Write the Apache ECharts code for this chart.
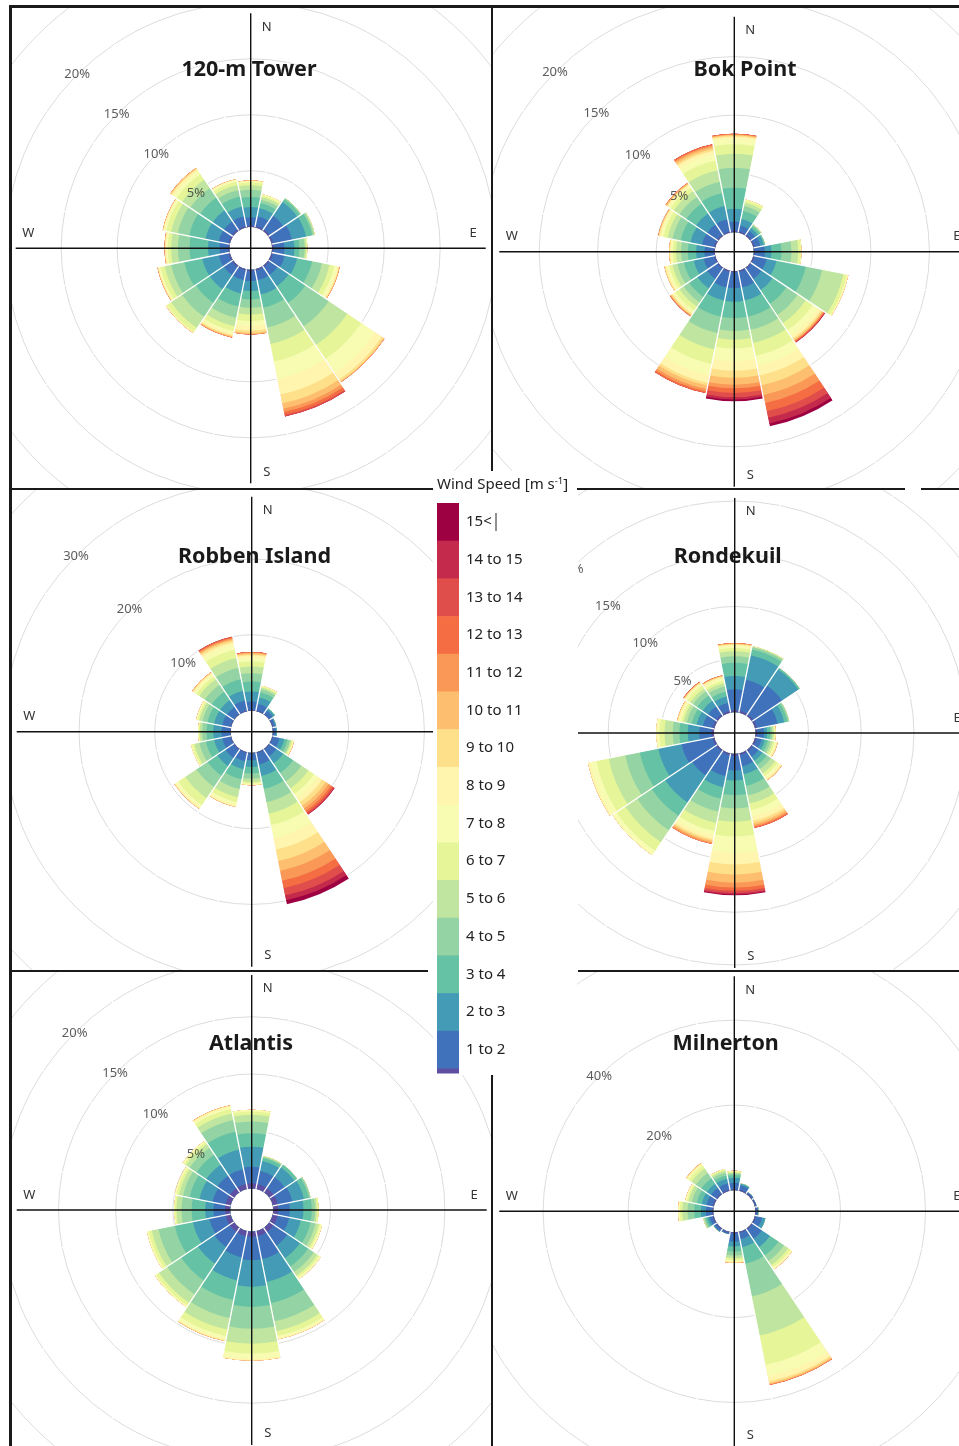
<!DOCTYPE html>
<html><head><meta charset="utf-8">
<script src="https://cdn.jsdelivr.net/npm/echarts@6/dist/echarts.min.js"></script>
<style>
html,body{margin:0;padding:0;background:#fff}
body{width:959px;height:1446px;position:relative;overflow:hidden}
.p{position:absolute;overflow:hidden;background:transparent}
.ln{position:absolute;background:#1a1a1a;z-index:5}
#legend{position:absolute;left:433px;top:471px;width:144px;height:604px;background:#fff;z-index:10}
</style></head><body>
<script>
// ---------- data ----------
const directions = ['N','NNE','NE','ENE','E','ESE','SE','SSE','S','SSW','SW','WSW','W','WNW','NW','NNW'];
const binLabels = ['0 to 1','1 to 2','2 to 3','3 to 4','4 to 5','5 to 6','6 to 7','7 to 8','8 to 9','9 to 10','10 to 11','11 to 12','12 to 13','13 to 14','14 to 15','15<'];
const binColors = ['#5E4FA2','#3F72BA','#439BB5','#66C2A5','#94D4A4','#BFE5A0','#E6F598','#F7FCB2','#FFF5AE','#FEE08B','#FDBF6F','#FA9857','#F46D43','#DF4E4B','#C32A4B','#9E0142'];
const legendTitle = 'Wind Speed [m s';
const legendTitleSup = '-1';

// cumulative frequency (%) at the upper end of each speed bin, one row per direction (N, NNE, ... NNW)
const tower120m = [
  [0.12,0.86,1.76,2.65,3.3,3.7,3.95,4.05,4.1,4.14],
  [0.12,1.0,1.76,2.2,2.5,2.75,2.9,3.0],
  [0.12,1.6,3.1,3.4,3.5],
  [0.12,1.85,3.13,3.69,3.84,3.93],
  [0.12,1.1,2.0,2.44,2.89,3.03,3.13],
  [0.12,1.19,2.32,3.69,4.58,5.27,5.71,6.0,6.1,6.15,6.2],
  [0.12,1.0,2.2,4.0,6.5,8.5,10.0,11.5,12.2,12.4,12.48,12.5],
  [0.12,1.0,2.3,3.5,5.3,6.8,8.4,10.0,11.4,12.2,12.7,13.0,13.25,13.4],
  [0.12,1.0,1.9,2.65,3.39,3.99,4.58,5.03,5.42,5.63,5.75,5.77],
  [0.12,1.0,2.2,3.39,4.43,5.18,5.63,5.85,6.0,6.1,6.18,6.22],
  [0.12,1.0,2.5,3.99,5.48,6.67,7.11,7.18,7.2,7.22,7.23],
  [0.12,1.0,2.5,4.14,5.33,5.92,6.31,6.45,6.52,6.55,6.58],
  [0.12,0.86,1.9,3.54,4.58,5.18,5.48,5.6,5.7,5.75,5.77],
  [0.12,1.0,2.2,3.69,4.73,5.33,5.77,5.98,6.05,6.08,6.1],
  [0.12,1.0,2.2,3.54,4.58,5.48,6.07,6.43,6.6,6.7,6.76],
  [0.12,1.0,1.9,2.8,3.39,3.84,4.14,4.3,4.37,4.4]
];
const bokPoint = [
  [0.1,0.9,2.0,3.8,5.5,6.7,7.5,8.0,8.15,8.25,8.32,8.37,8.41],
  [0.1,0.6,1.2,1.9,2.3,2.6,2.8,2.87],
  [0.1,0.5,0.8,1.0,1.1,1.16],
  [0.1,0.6,0.9,1.02],
  [0.1,0.94,1.5,2.36,3.21,3.78,4.02,4.06],
  [0.1,1.16,2.02,4.57,5.99,7.84,8.13,8.2,8.27],
  [0.1,1.16,2.3,3.72,4.86,5.71,6.42,6.99,7.27,7.41,7.5,7.56,7.62,7.67,7.7],
  [0.1,1.45,2.59,4.0,5.14,6.28,7.41,8.27,9.12,9.97,10.82,11.53,12.24,12.81,13.3,13.55],
  [0.1,1.45,2.6,4.0,5.1,5.85,6.6,7.7,8.5,9.1,9.7,10.0,10.4,10.75,10.95,11.1],
  [0.1,1.45,2.59,4.0,5.43,6.85,8.13,9.12,9.75,10.0,10.3,10.5,10.65],
  [0.1,1.16,2.16,3.01,3.58,4.0,4.43,4.63,4.74,4.86,4.92,4.97,5.0],
  [0.1,1.02,1.88,2.73,3.3,3.72,4.0,4.2,4.35,4.43],
  [0.1,0.88,1.59,2.3,2.87,3.3,3.58,3.72,3.82,3.89],
  [0.1,1.16,2.16,3.01,3.72,4.15,4.52,4.72,4.85,4.92,4.97],
  [0.1,1.16,2.3,3.3,4.0,4.57,4.91,5.14,5.25,5.31,5.38,5.43],
  [0.1,1.16,2.3,3.44,4.43,5.43,6.28,6.85,7.13,7.3,7.47,7.61,7.7]
];
const robbenIsland = [
  [0.1,1.19,2.51,3.83,4.93,5.81,6.48,7.0,7.27,7.44,7.58,7.65,7.71],
  [0.1,0.97,1.85,2.51,2.95,3.17,3.3,3.39],
  [0.1,0.6,0.9,0.97],
  [0.1,0.4,0.53],
  [0.1,0.4,0.53],
  [0.1,0.97,1.63,2.07,2.42,2.6,2.78,2.86,2.9,2.95],
  [0.1,1.19,2.29,3.83,5.15,6.26,7.14,7.8,8.46,9.03,9.47,9.87,10.13,10.35,10.44],
  [0.1,1.63,3.17,4.93,6.7,8.24,9.78,11.54,13.08,14.63,15.95,17.27,18.28,19.25,19.91,20.44],
  [0.1,0.97,1.85,2.73,3.39,3.83,4.05,4.19,4.25,4.27],
  [0.1,1.19,2.29,3.61,4.93,6.04,6.7,7.14,7.3,7.36],
  [0.1,1.41,2.73,4.27,6.04,7.8,8.9,9.34,9.45,9.52],
  [0.1,1.19,2.29,3.39,4.27,4.93,5.24,5.37],
  [0.1,1.19,2.29,3.17,3.74,4.05,4.2,4.27],
  [0.1,1.19,2.29,3.17,3.83,4.27,4.49,4.65,4.71],
  [0.1,1.19,2.29,3.61,4.71,5.59,6.04,6.39,6.55,6.65,6.7],
  [0.1,1.41,2.73,4.27,5.81,7.14,8.24,8.9,9.21,9.47,9.65,9.82,9.95,10.0]
];
const rondekuil = [
  [0.15,2.16,3.41,4.66,5.28,5.75,6.06,6.3,6.38,6.45,6.5,6.53],
  [0.15,3.16,5.53,6.09,6.31,6.38,6.41],
  [0.15,3.44,5.31,5.47],
  [0.15,2.19,2.81,3.13,3.28],
  [0.15,0.78,1.09,1.41,1.56,1.72,1.81,1.88,1.91],
  [0.15,0.63,0.94,1.25,1.5,1.72,1.88,2.03,2.12,2.19],
  [0.15,0.78,1.25,1.72,2.19,2.66,2.97,3.19,3.35,3.44],
  [0.15,1.25,2.03,3.13,4.06,4.84,5.47,6.09,6.5,6.75,6.94,7.09,7.19],
  [0.15,1.56,2.5,3.91,5.16,6.41,7.81,9.38,10.47,11.41,12.19,12.66,12.97,13.19,13.31,13.38],
  [0.15,2.19,3.28,4.38,5.63,6.72,7.5,7.97,8.28,8.44,8.59,8.75],
  [0.15,2.88,5.97,7.5,9.16,10.5,11.5,11.97],
  [0.15,3.16,5.4,7.2,8.6,10.2,11.4,12.0,12.2],
  [0.2,1.38,2.47,3.25,3.88,4.66,5.13,5.44],
  [0.15,1.09,1.72,2.19,2.66,2.97,3.19,3.38,3.5,3.59],
  [0.15,1.09,1.72,2.34,2.81,3.13,3.44,3.66,3.75,3.8,3.84,3.88,3.91],
  [0.15,0.94,1.56,2.03,2.5,2.81,3.06,3.28,3.45,3.5,3.55,3.59]
];
const atlantis = [
  [0.44,1.9,3.65,4.82,5.85,6.43,6.73,6.87],
  [0.44,1.61,2.49,2.78,2.87,2.92],
  [0.44,1.61,2.63,2.92],
  [0.44,1.75,2.78,3.22,3.36],
  [0.44,1.46,2.63,3.36,3.65,3.8,3.95],
  [0.44,1.46,2.49,3.36,3.8,4.09,4.24,4.39],
  [0.44,1.9,3.22,4.09,4.68,5.06,5.26,5.41],
  [0.44,2.49,4.53,6.43,8.04,8.92,9.36,9.56,9.65],
  [0.44,2.49,4.82,6.58,8.48,9.8,10.67,11.11,11.26],
  [0.44,2.34,4.39,6.14,7.75,8.77,9.36,9.65,9.75,9.8],
  [0.44,2.05,3.8,5.56,7.02,7.89,8.19,8.33],
  [0.44,1.9,3.36,4.97,6.43,7.02,7.31,7.46],
  [0.44,1.46,2.19,3.36,4.24,4.68,4.82,4.88],
  [0.44,1.61,2.78,3.65,4.24,4.59,4.82,4.97],
  [0.44,1.75,2.92,3.95,4.68,5.06,5.26,5.41],
  [0.44,1.75,3.51,5.12,6.14,6.73,7.11,7.31,7.4,7.46]
];
const milnerton = [
  [0.24,1.73,2.9,3.53,3.92,4.16,4.31,4.39,4.47,4.55],
  [0.24,1.3,1.6,1.73],
  [0.24,0.5,0.55],
  [0.24,0.39],
  [0.24,0.6,0.71],
  [0.24,1.73,2.51],
  [0.24,2.9,5.25,7.61,9.18,10.35,10.98,11.29,11.53],
  [0.24,1.73,3.69,7.61,15.45,24.86,31.92,34.67,35.84,36.31,36.55,36.71],
  [0.24,2.12,3.29,4.47,5.41,6.04,6.51,6.82,7.0,7.14],
  [0.24,0.55],
  [0.24,0.8,0.94],
  [0.24,1.0,1.5,2.0,2.3,2.51],
  [0.24,1.73,2.9,4.47,6.04,7.22,7.84,8.08,8.24],
  [0.24,1.73,2.9,4.08,5.25,6.04,6.43,6.67,6.82],
  [0.24,1.73,2.9,4.47,6.04,7.22,8.0,8.39,8.6,8.78],
  [0.24,1.73,2.9,3.69,4.31,4.78,5.1,5.25]
];
const towerTicks = [5,10,15,20];
const bokTicks = [5,10,15,20];
const robbenTicks = [10,20,30];
const rondekuilTicks = [5,10,15,20];
const atlantisTicks = [5,10,15,20];
const milnertonTicks = [20,40];
const compass = ['N','E','S','W'];

// ---------- layout ----------
const FONT = '"Noto Sans", "DejaVu Sans", sans-serif';
const panels = [
  {title:'120-m Tower', data:tower120m, ticks:towerTicks, box:[12,8,479,480], center:[250.7,248.3], r0:21.5, k:11.2, step:5, max:30, titleAt:[249,69.5]},
  {title:'Bok Point', data:bokPoint, ticks:bokTicks, box:[493,8,466,480], center:[734.3,251.7], r0:19.6, k:11.7, step:5, max:30, titleAt:[745,69.5]},
  {title:'Robben Island', data:robbenIsland, ticks:robbenTicks, box:[12,490,421,480], center:[251.7,731.7], r0:21.2, k:7.575, step:10, max:40, titleAt:[254.5,557]},
  {title:'Rondekuil', data:rondekuil, ticks:rondekuilTicks, box:[578,490,381,480], center:[734.7,733], r0:21, k:10.55, step:5, max:30, titleAt:[727.7,557]},
  {title:'Atlantis', data:atlantis, ticks:atlantisTicks, box:[12,972,480,474], center:[251.7,1210], r0:21.6, k:11.44, step:5, max:30, titleAt:[251,1043.5]},
  {title:'Milnerton', data:milnerton, ticks:milnertonTicks, box:[493,972,466,474], center:[734.3,1211.3], r0:21.2, k:4.25, step:20, max:60, titleAt:[725.7,1044]}
];

panels.forEach(p => {
  const div = document.createElement('div');
  div.className = 'p';
  div.style.left = p.box[0] + 'px';
  div.style.top = p.box[1] + 'px';
  div.style.width = p.box[2] + 'px';
  div.style.height = p.box[3] + 'px';
  document.body.appendChild(div);
  const chart = echarts.init(div, null, {renderer:'canvas', width:p.box[2], height:p.box[3]});
  const cx = p.center[0] - p.box[0], cy = p.center[1] - p.box[1];

  const series = [];
  for (let b = binLabels.length - 1; b >= 0; b--) {
    series.push({
      type:'bar', coordinateSystem:'polar', name:binLabels[b],
      data:p.data.map(row => row[Math.min(b, row.length - 1)]),
      barGap:'-100%', barCategoryGap:'2%',
      itemStyle:{color:binColors[b]}, silent:true
    });
  }
  series.push({
    type:'scatter', coordinateSystem:'polar', symbolSize:1,
    itemStyle:{color:'rgba(0,0,0,0)'}, silent:true, z:6,
    data:p.ticks.map(t => [t, 'NW']),
    label:{show:true, position:'inside', formatter:q => q.value[0] + '%', color:'#333', fontSize:13, fontFamily:FONT}
  });

  const L = 235;
  const txt = (s, x, y) => ({type:'text', x:x, y:y, z:100,
    style:{text:s, font:'13px ' + FONT, fill:'#333', align:'center', verticalAlign:'middle', textAlign:'center', textVerticalAlign:'middle'}});
  const graphic = [
    {type:'line', z:100, shape:{x1:cx, y1:cy - L, x2:cx, y2:cy + L}, style:{stroke:'#111', lineWidth:1.4}},
    {type:'line', z:100, shape:{x1:cx - L, y1:cy, x2:cx + L, y2:cy}, style:{stroke:'#111', lineWidth:1.4}},
    txt(compass[0], cx + 16, cy - 221.5),
    txt(compass[1], cx + 222.5, cy - 15),
    txt(compass[2], cx + 16, cy + 223.5),
    txt(compass[3], cx - 222.5, cy - 15),
    {type:'text', z:50, x:p.titleAt[0] - p.box[0], y:p.titleAt[1] - p.box[1],
      style:{text:p.title, font:'bold 21.5px ' + FONT, fill:'#1a1a1a', align:'center', verticalAlign:'middle', textAlign:'center', textVerticalAlign:'middle'}}
  ];

  chart.setOption({
    animation:false,
    polar:{center:[cx, cy], radius:[p.r0, p.r0 + p.k * p.max]},
    angleAxis:{type:'category', data:directions, startAngle:101.25, clockwise:true, z:4,
      axisLine:{show:false}, axisTick:{show:false}, axisLabel:{show:false},
      splitLine:{show:true, lineStyle:{color:'#ffffff', width:1.3}}},
    radiusAxis:{type:'value', min:0, max:p.max, interval:p.step, z:1,
      axisLine:{show:false}, axisTick:{show:false}, axisLabel:{show:false},
      splitLine:{show:true, showMinLine:false, lineStyle:{color:'#dcdcdc', width:1}}},
    series:series,
    graphic:graphic
  });
});

// ---------- frame lines ----------
[[9,5,950,3],[9,5,3,1441],[12,488,421,2],[577,488,328,2],[921,488,38,2],[491,8,2,480],
 [12,970,416,2],[578,970,381,2],[491,1075,2,371]].forEach(r => {
  const d = document.createElement('div');
  d.className = 'ln';
  d.style.left = r[0]+'px'; d.style.top = r[1]+'px'; d.style.width = r[2]+'px'; d.style.height = r[3]+'px';
  document.body.appendChild(d);
});

// ---------- legend ----------
const lgDiv = document.createElement('div');
lgDiv.id = 'legend';
document.body.appendChild(lgDiv);
const lg = echarts.init(lgDiv, null, {renderer:'canvas', width:144, height:604});
const els = [];
const top0 = 32, h = 37.7;
for (let b = binLabels.length - 1; b >= 1; b--) {
  const y = top0 + (binLabels.length - 1 - b) * h;
  els.push({type:'rect', shape:{x:4, y:y, width:22, height:h + 0.6}, style:{fill:binColors[b]}});
  els.push({type:'text', x:33, y:y + h / 2, style:{text:binLabels[b], font:'15px ' + FONT, fill:'#222', verticalAlign:'middle', textVerticalAlign:'middle'}});
}
els.push({type:'rect', shape:{x:4, y:top0 + (binLabels.length - 1) * h, width:22, height:5}, style:{fill:binColors[0]}});
els.push({type:'line', shape:{x1:63, y1:top0 + 10, x2:63, y2:top0 + 28}, style:{stroke:'#222', lineWidth:1}});
els.push({type:'text', x:4, y:14, style:{
  text:'{t|' + legendTitle + '}{s|' + legendTitleSup + '}{t|]}',
  verticalAlign:'middle', textVerticalAlign:'middle',
  rich:{t:{fontSize:15, fontFamily:FONT, fill:'#222', color:'#222'}, s:{fontSize:9.5, fontFamily:FONT, fill:'#222', color:'#222', verticalAlign:'top', padding:[0,0,7,0]}}
}});
lg.setOption({animation:false, graphic:els});
</script>
</body></html>
